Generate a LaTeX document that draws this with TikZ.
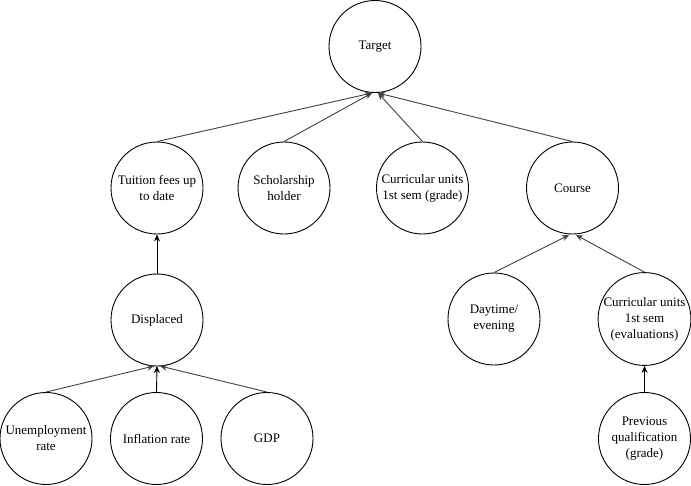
\documentclass[tikz,border=0pt]{standalone}
\usepackage{fontspec}
\setmainfont{Liberation Serif}
\usetikzlibrary{arrows.meta}
\begin{document}
\begin{tikzpicture}[x=1pt,y=-1pt,
  var/.style={circle,draw,line width=0.9pt,minimum size=92pt,inner sep=0pt,align=center,font=\fontsize{13}{16}\selectfont},
  link/.style={line width=0.9pt,draw=black!75,-{Stealth[length=7pt,width=6pt]}}]
\useasboundingbox (0,0) rectangle (691,485);
\node[var] (tgt) at (375,46.5) {Target};
\node[var] (tui) at (157,188) {Tuition fees up\\to date};
\node[var] (sch) at (284,188) {Scholarship\\holder};
\node[var] (cug) at (422.5,188) {Curricular units\\1st sem (grade)};
\node[var] (cou) at (572.5,188) {Course};
\node[var] (dis) at (157,320) {Displaced};
\node[var] (une) at (46,438.5) {Unemployment\\rate};
\node[var] (inf) at (156.5,438.5) {Inflation rate};
\node[var] (gdp) at (267,438.5) {GDP};
\node[var] (day) at (494,319) {Daytime/\\evening};
\node[var] (cue) at (644.5,319) {Curricular units\\1st sem\\(evaluations)};
\node[var] (pre) at (644.5,438.5) {Previous\\qualification\\(grade)};
\coordinate (tA) at (372,93);
\coordinate (tB) at (378,93);
\coordinate (dA) at (154,366);
\coordinate (dB) at (157,366);
\coordinate (dC) at (160,366);
\coordinate (cA) at (569,235);
\coordinate (cB) at (576,235);
\draw[link] (tui.north) -- (tA);
\draw[link] (sch.north) -- (tA);
\draw[link] (cug.north) -- (tB);
\draw[link] (cou.north) -- (tB);
\draw[link,draw=black] (dis.north) -- (tui.south);
\draw[link] (une.north) -- (dA);
\draw[link,draw=black] (inf.north) -- (dB);
\draw[link] (gdp.north) -- (dC);
\draw[link] (day.north) -- (cA);
\draw[link] (cue.north) -- (cB);
\draw[link,draw=black] (pre.north) -- (cue.south);
\end{tikzpicture}
\end{document}
